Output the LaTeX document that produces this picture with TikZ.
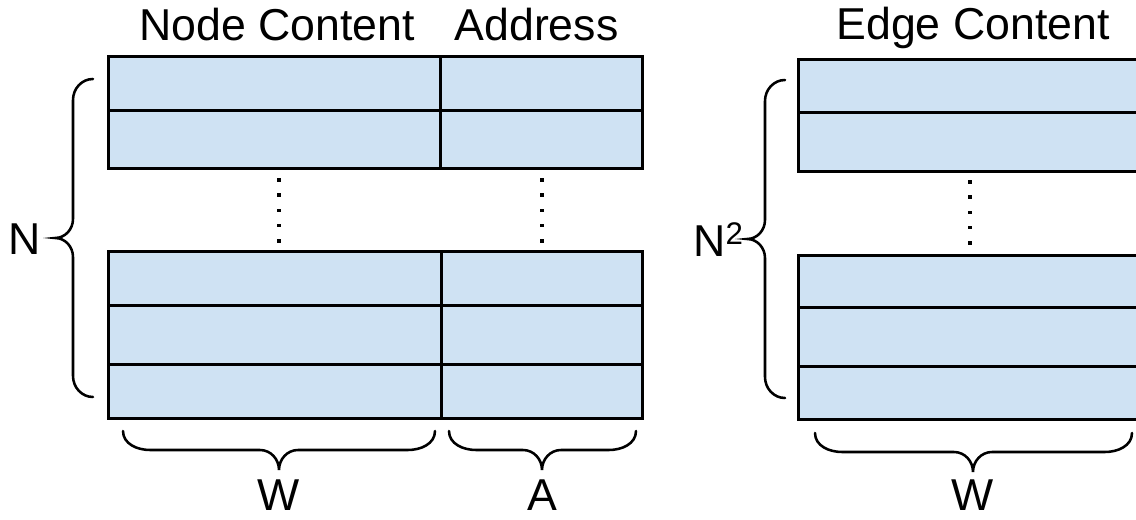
\documentclass[tikz,border=0pt]{standalone}
\usepackage{fontspec}
\setmainfont{Liberation Sans}
\definecolor{cellblue}{HTML}{CFE2F3}
\begin{document}
\begin{tikzpicture}[x=0.75pt,y=-0.75pt,
  cell/.style={draw=black, fill=cellblue, line width=2.25pt, line join=miter},
  bracepath/.style={draw=black, line width=1.9pt, line cap=round},
  lbl/.style={font=\fontsize{33.5}{40}\selectfont, inner sep=0pt, anchor=base},
  dotmark/.style={fill=black}]
\useasboundingbox (0,0) rectangle (1136,520);
\clip (0,0) rectangle (1136,520);

% ---- left table, top rows
\draw[cell] (108,57) rectangle (440,111);
\draw[cell] (108,111) rectangle (440,169);
\draw[cell] (440,57) rectangle (642,111);
\draw[cell] (440,111) rectangle (642,169);
% ---- left table, bottom rows
\draw[cell] (108,252) rectangle (441,306);
\draw[cell] (108,306) rectangle (441,365);
\draw[cell] (108,365) rectangle (441,419);
\draw[cell] (441,252) rectangle (642,306);
\draw[cell] (441,306) rectangle (642,365);
\draw[cell] (441,365) rectangle (642,419);
% ---- right table
\draw[cell] (798,60) rectangle (1150,113);
\draw[cell] (798,113) rectangle (1150,172);
\draw[cell] (798,256) rectangle (1150,308);
\draw[cell] (798,308) rectangle (1150,367);
\draw[cell] (798,367) rectangle (1150,420);

% ---- vertical dots
\foreach \y in {180,195.25,210.5,225.75,241}{
  \fill[dotmark] (277.25,\y-1.75) rectangle ++(3.5,3.5);
  \fill[dotmark] (540.25,\y-1.75) rectangle ++(3.5,3.5);
}
\foreach \y in {182,197.25,212.5,227.75,243}{
  \fill[dotmark] (968.25,\y-1.75) rectangle ++(3.5,3.5);
}

% ---- braces
\draw[bracepath] (93,79) to[out=180,in=90] (73,100) -- (73,219)
  to[out=-90,in=0] (55,238) to[out=0,in=90] (73,257) -- (73,376)
  to[out=-90,in=180] (93,397);
\draw[bracepath] (785,80) to[out=180,in=90] (765,101) -- (765,220)
  to[out=-90,in=0] (747,239) to[out=0,in=90] (765,258) -- (765,377)
  to[out=-90,in=180] (785,398);
\draw[bracepath] (123,431) to[out=-90,in=180] (150,450) -- (260,450)
  to[out=0,in=90] (279,470) to[out=90,in=180] (298,450) -- (408,450)
  to[out=0,in=-90] (435,431);
\draw[bracepath] (449,431) to[out=-90,in=180] (476,450) -- (523,450)
  to[out=0,in=90] (542,470) to[out=90,in=180] (561,450) -- (609,450)
  to[out=0,in=-90] (636,431);
\draw[bracepath] (815,433) to[out=-90,in=180] (842,452) -- (954,452)
  to[out=0,in=90] (973,472) to[out=90,in=180] (992,452) -- (1105,452)
  to[out=0,in=-90] (1132,433);

% ---- labels
\node[lbl] (tnc) at (277,41) {Node Content};
\node[lbl] (tad) at (536.5,41) {Address};
\node[lbl] (tec) at (973,40) {Edge Content};
\node[lbl] (ln) at (25,255) {N};
\node[lbl, anchor=base west] (ln2) at (693,257) {N\textsuperscript{2}};
\node[lbl] (lw1) at (279,510) {W};
\node[lbl] (la) at (542,510) {A};
\node[lbl] (lw2) at (973,510) {W};
\end{tikzpicture}
\end{document}
